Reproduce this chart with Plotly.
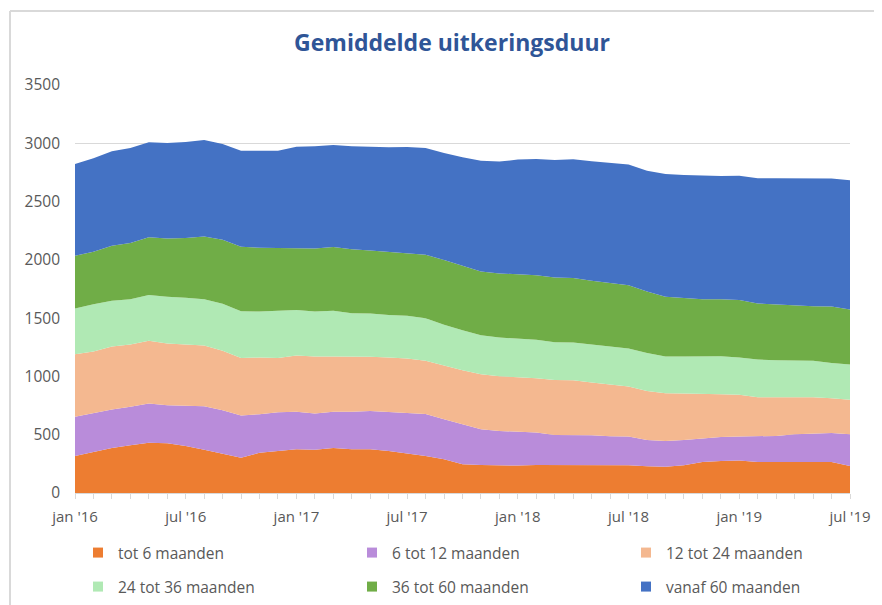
import plotly.graph_objects as go

# ---- categories (monthly, jan '16 .. jul '19)
month_names = ["jan", "feb", "mrt", "apr", "mei", "jun", "jul", "aug", "sep", "okt", "nov", "dec"]
months = [f"{m} '{y}" for y in (16, 17, 18, 19) for m in month_names][:43]
tick_labels = [m if m.startswith(("jan", "jul")) else "" for m in months]

# ---- series values
tot_6 = [318, 352, 386, 409, 432, 427, 404, 372, 338, 303, 346, 358, 375, 372, 386, 375, 375, 361, 341, 318,
         289, 246, 240, 235, 235, 240, 240, 240, 243, 240, 238, 229, 226, 238, 266, 275, 278, 266, 266, 266,
         269, 266, 232]
m6_12 = [337, 335, 330, 330, 335, 326, 343, 372, 372, 361, 330, 335, 323, 309, 312, 321, 329, 335, 343, 360,
         344, 344, 307, 297, 289, 278, 258, 258, 252, 247, 246, 226, 221, 217, 204, 206, 206, 218, 224, 238,
         243, 249, 272]
m12_24 = [536, 527, 541, 535, 538, 529, 527, 521, 510, 495, 486, 466, 481, 490, 473, 475, 464, 466, 470, 456,
          458, 463, 472, 470, 469, 467, 472, 470, 452, 440, 429, 421, 409, 398, 377, 366, 358, 338, 332, 320,
          310, 298, 295]
m24_36 = [392, 406, 392, 389, 393, 401, 401, 398, 403, 401, 395, 404, 390, 386, 392, 372, 372, 364, 366, 366,
          352, 344, 335, 332, 332, 329, 324, 323, 327, 327, 326, 324, 315, 318, 327, 327, 320, 323, 317, 315,
          312, 303, 303]
m36_60 = [452, 450, 472, 481, 495, 501, 512, 538, 550, 553, 547, 541, 532, 541, 547, 547, 541, 541, 538, 544,
          555, 552, 547, 550, 553, 555, 555, 553, 547, 547, 544, 529, 512, 501, 489, 489, 493, 481, 478, 473,
          469, 484, 472]
vanaf_60 = [788, 801, 810, 816, 816, 819, 825, 828, 821, 824, 833, 833, 870, 876, 876, 884, 890, 899, 911, 916,
            919, 931, 950, 959, 982, 997, 1008, 1019, 1025, 1030, 1034, 1036, 1054, 1056, 1059, 1057, 1067, 1073,
            1082, 1087, 1096, 1097, 1108]

series_names = ["tot 6 maanden", "6 tot 12 maanden", "12 tot 24 maanden",
                "24 tot 36 maanden", "36 tot 60 maanden", "vanaf 60 maanden"]
series_values = [tot_6, m6_12, m12_24, m24_36, m36_60, vanaf_60]
colors = ["#ED7D31", "#B98CDA", "#F4B890", "#B0E9B4", "#70AD47", "#4472C4"]

FONT = "Open Sans"
GREY = "#595959"
GRID = "#D9D9D9"

# figure geometry (page is drawn with an 8px body offset)
W, H = 874, 597
PL, PR, PT, PB = 67, 842, 76.5, 485   # plot area in figure px
PW, PHt = PR - PL, PB - PT


def px_x(x):
    return (x - PL) / PW


def px_y(y):
    return (PB - y) / PHt


fig = go.Figure()
for name, vals, col in zip(series_names, series_values, colors):
    fig.add_trace(go.Scatter(
        x=months, y=vals, name=name, mode="lines", stackgroup="one",
        line=dict(width=0, color=col), fillcolor=col, showlegend=False,
    ))

# legend entries with small square keys, one legend per entry (3 columns x 2 rows)
leg_x = [70, 344, 618]
leg_y = [545, 579]
legends = {}
for i, (name, col) in enumerate(zip(series_names, colors)):
    key = "legend" if i == 0 else f"legend{i + 1}"
    fig.add_trace(go.Scatter(
        x=[None], y=[None], mode="markers", name=name,
        marker=dict(symbol="square", size=10, color=col),
        legend=key,
    ))
    legends[key] = dict(
        orientation="h", xanchor="left", yanchor="middle",
        xref="container", yref="container",
        x=leg_x[i % 3] / W, y=1 - leg_y[i // 3] / H,
        font=dict(family=FONT, size=15.5, color=GREY),
        itemwidth=30, bgcolor="rgba(0,0,0,0)",
    )

fig.update_layout(
    width=W, height=H,
    margin=dict(l=PL, r=W - PR, t=PT, b=H - PB),
    paper_bgcolor="white", plot_bgcolor="white",
    title=dict(text="<b>Gemiddelde uitkeringsduur</b>", x=(452 - 8) / W, xanchor="center",
               y=1 - 35 / H, yanchor="middle",
               font=dict(family=FONT, size=23, color="#2F5597")),
    xaxis=dict(
        type="category", range=[0, 42], automargin=False,
        tickmode="array", tickvals=months, ticktext=tick_labels,
        ticks="outside", ticklen=5, tickcolor=GRID, tickwidth=1,
        showline=True, linecolor=GRID, linewidth=1,
        showgrid=False, tickangle=0, ticklabelstandoff=5,
        tickfont=dict(family=FONT, size=15, color=GREY),
    ),
    yaxis=dict(
        range=[0, 3500], dtick=500, showgrid=True, gridcolor=GRID, gridwidth=1,
        zeroline=False, showline=False, ticks="", ticklabelstandoff=14, automargin=False,
        tickfont=dict(family=FONT, size=15.5, color=GREY),
    ),
    shapes=[
        dict(type="line", xref="paper", yref="paper",
             x0=px_x(2), x1=px_x(2), y0=px_y(2.5), y1=px_y(H + 20),
             line=dict(color=GRID, width=2)),
        dict(type="line", xref="paper", yref="paper",
             x0=px_x(2), x1=px_x(W + 20), y0=px_y(2.5), y1=px_y(2.5),
             line=dict(color=GRID, width=2)),
    ],
    **legends,
)

fig.write_html("out.html")
